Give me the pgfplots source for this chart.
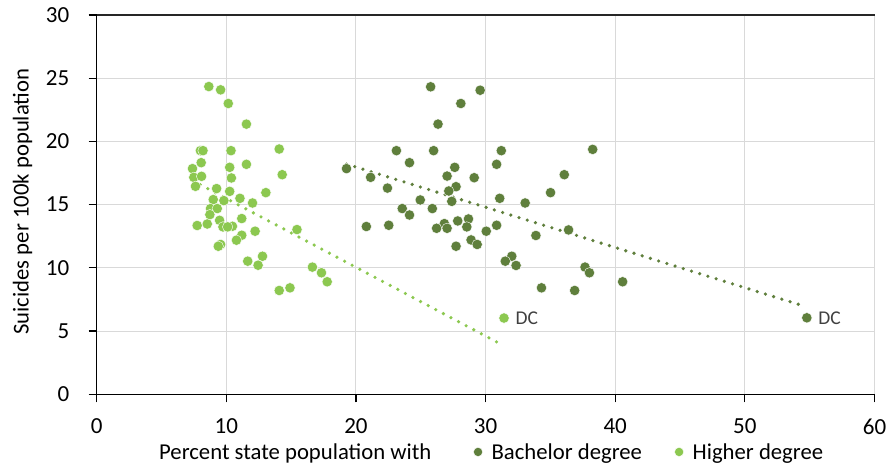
\documentclass[border=0pt]{standalone}
\usepackage{fontspec}
\setmainfont{Carlito}
\usepackage{pgfplots}
\pgfplotsset{compat=1.18}
\usepackage{pgfplotstable}
\definecolor{darkg}{HTML}{5F7F3C}
\definecolor{lightg}{HTML}{8CC850}
\definecolor{gridg}{HTML}{D9D9D9}
\pgfplotstableread{
x y
25.76 24.32
29.58 24.05
28.09 23.00
26.33 21.37
23.12 19.27
25.99 19.27
31.21 19.27
38.26 19.37
24.13 18.32
30.85 18.19
19.27 17.85
27.62 17.95
21.13 17.16
27.03 17.26
29.12 17.13
36.07 17.37
22.43 16.31
27.72 16.42
27.16 16.08
35.01 15.95
24.96 15.37
27.39 15.26
31.09 15.50
33.05 15.13
23.57 14.69
25.89 14.69
24.13 14.18
20.80 13.27
22.53 13.37
26.82 13.50
27.85 13.71
28.68 13.87
26.22 13.13
27.03 13.13
28.55 13.24
30.85 13.37
30.05 12.90
36.40 13.00
33.88 12.56
28.88 12.21
29.35 11.85
27.72 11.71
32.02 10.92
31.52 10.53
32.35 10.19
37.67 10.06
38.01 9.61
40.57 8.90
34.31 8.42
36.87 8.21
}\bach
\pgfplotstableread{
x y
8.65 24.34
9.56 24.08
10.15 23.00
11.55 21.37
8.00 19.27
8.20 19.27
10.36 19.27
14.08 19.40
8.06 18.32
10.26 17.95
11.55 18.19
7.39 17.85
7.49 17.16
8.09 17.24
10.39 17.11
14.31 17.37
7.62 16.45
9.25 16.27
10.26 16.05
13.05 15.95
8.99 15.40
9.81 15.32
11.05 15.50
12.02 15.13
8.78 14.69
9.30 14.69
8.73 14.21
9.48 13.76
11.19 13.90
7.75 13.35
8.53 13.47
9.74 13.24
10.47 13.29
10.10 13.24
12.22 12.90
15.45 13.03
11.19 12.58
10.78 12.19
9.56 11.85
9.38 11.71
12.79 10.92
11.65 10.53
12.45 10.21
16.64 10.06
17.34 9.61
17.78 8.90
14.08 8.21
14.91 8.42
}\higher
\begin{document}
\begin{tikzpicture}
\begin{axis}[
  scale only axis,
  width=777.8pt, height=379.3pt,
  xmin=0, xmax=60, ymin=0, ymax=30,
  xtick={0,10,...,60},
  ytick={0,5,...,25},
  extra y ticks={30},
  extra y tick style={grid style={black!85, line width=1.2pt}},
  axis x line=bottom, axis y line=left,
  axis line style={-, black, line width=1.5pt},
  tick align=outside,
  major tick length=8pt,
  tick style={black, line width=1.2pt},
  grid=major,
  grid style={gridg, line width=1pt},
  /pgf/number format/assume math mode=true,
  ticklabel style={font=\fontsize{23}{27}\selectfont, text=black},
  yticklabel style={xshift=-16pt},
  xticklabel style={yshift=-13pt},
  ylabel={Suicides per 100k population},
  ylabel style={at={(axis description cs:-0.0954,0.508)}, anchor=center, rotate=0,
    font=\fontsize{22.7}{27}\selectfont, text=black},
  xlabel={Percent state population with},
  xlabel style={at={(axis description cs:0.0801,-0.1715)}, anchor=base west, inner sep=0pt,
    font=\fontsize{22.7}{27}\selectfont, text=black},
  clip=false,
  legend columns=-1,
  legend style={draw=none, fill=none, at={(0.4841,-0.152)}, anchor=west,
    inner sep=0pt, nodes={inner sep=0pt},
    font=\fontsize{22.7}{27}\selectfont, text=black,
    /tikz/every odd column/.append style={column sep=9pt},
    /tikz/every even column/.append style={column sep=32.5pt}},
  legend image code/.code={\draw[#1] plot coordinates {(0pt,0pt)};},
]
\addplot[only marks, mark=*, mark size=5.2pt, mark options={fill=darkg, draw=white, line width=0.4pt},
  legend image post style={mark size=4.6pt}] table {\bach};
\addlegendentry{Bachelor degree}
\addplot[only marks, mark=*, mark size=5.2pt, mark options={fill=lightg, draw=white, line width=0.4pt},
  legend image post style={mark size=4.6pt}] table {\higher};
\addlegendentry{Higher degree}
\addplot[forget plot, only marks, mark=*, mark size=5.2pt, mark options={fill=darkg, draw=white, line width=0.4pt},
  nodes near coords={DC}, every node near coord/.style={anchor=west, xshift=8pt, font=\fontsize{19.5}{23}\selectfont, text=black!75}]
  coordinates {(54.78,6.05)};
\addplot[forget plot, only marks, mark=*, mark size=5.2pt, mark options={fill=lightg, draw=white, line width=0.4pt},
  nodes near coords={DC}, every node near coord/.style={anchor=west, xshift=8pt, font=\fontsize{19.5}{23}\selectfont, text=black!75}]
  coordinates {(31.42,6.03)};
\addplot[forget plot, darkg, line width=3.6pt, line cap=round, dash pattern=on 0pt off 8.6pt] coordinates {(19.27,18.21) (54.5,7.0)};
\addplot[forget plot, lightg, line width=3.6pt, line cap=round, dash pattern=on 0pt off 8.6pt] coordinates {(7.4,16.9) (31.3,3.9)};
\end{axis}
\path (current axis.south west) ++(-96.7pt,-73.7pt) rectangle ++(893pt,468pt);
\end{tikzpicture}
\end{document}
